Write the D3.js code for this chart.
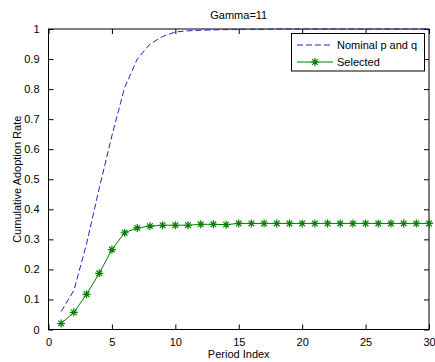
<!DOCTYPE html>
<html>
<head>
<meta charset="utf-8">
<script src="https://cdn.jsdelivr.net/npm/d3@7/dist/d3.min.js"></script>
<style>
  body { margin: 0; background: #fff; }
  svg { display: block; }
  text { font-family: "Liberation Sans", Arial, Helvetica, sans-serif; font-size: 11px; fill: #000; }
</style>
</head>
<body>
<svg id="chart" width="435" height="362"></svg>
<script>
// Period indices 1..30
const periods = d3.range(1, 31);

// Cumulative adoption, nominal p and q
const nominal = [0.06, 0.13, 0.285, 0.47, 0.645, 0.805, 0.90, 0.95, 0.975, 0.99,
                 0.994, 0.996, 0.997, 0.998, 0.999, 0.999, 0.999, 1.0, 1.0, 1.0,
                 1.0, 1.0, 1.0, 1.0, 1.0, 1.0, 1.0, 1.0, 1.0, 1.0];

// Cumulative adoption, selected parameters
const selected = [0.02, 0.057, 0.117, 0.187, 0.266, 0.322, 0.338, 0.344, 0.347, 0.347,
                  0.347, 0.350, 0.350, 0.349, 0.353, 0.353, 0.353, 0.353, 0.353, 0.353,
                  0.353, 0.353, 0.353, 0.353, 0.353, 0.353, 0.353, 0.353, 0.353, 0.353];

const xTicks = [0, 5, 10, 15, 20, 25, 30];
const yTicks = [0, 0.1, 0.2, 0.3, 0.4, 0.5, 0.6, 0.7, 0.8, 0.9, 1];

const titleText = "Gamma=11";
const xLabel = "Period Index";
const yLabel = "Cumulative Adoption Rate";
const seriesNames = ["Nominal p and q", "Selected"];

const blue = "#2020d0";
const green = "#008000";

const svg = d3.select("#chart");
const plot = { left: 48.5, right: 429, top: 29, bottom: 329.5 };

const x = d3.scaleLinear().domain([0, 30]).range([plot.left, plot.right]);
const y = d3.scaleLinear().domain([0, 1]).range([plot.bottom, plot.top]);

// Axes with inward ticks, mirrored on top and right
const tickLen = 5;
svg.append("g").attr("transform", `translate(0,${plot.bottom})`)
  .call(d3.axisBottom(x).tickValues(xTicks).tickSizeInner(-tickLen).tickSizeOuter(0).tickPadding(9))
  .call(g => g.select(".domain").remove());
svg.append("g").attr("transform", `translate(0,${plot.top})`)
  .call(d3.axisTop(x).tickValues(xTicks).tickSizeInner(-tickLen).tickSizeOuter(0).tickFormat(""))
  .call(g => g.select(".domain").remove());
svg.append("g").attr("transform", `translate(${plot.left},0)`)
  .call(d3.axisLeft(y).tickValues(yTicks).tickSizeInner(-tickLen).tickSizeOuter(0).tickPadding(9).tickFormat(d3.format("~g")))
  .call(g => g.select(".domain").remove());
svg.append("g").attr("transform", `translate(${plot.right},0)`)
  .call(d3.axisRight(y).tickValues(yTicks).tickSizeInner(-tickLen).tickSizeOuter(0).tickFormat(""))
  .call(g => g.select(".domain").remove());

svg.selectAll(".tick line").attr("stroke", "#000");
svg.selectAll(".tick text").style("font-size", "11px").attr("fill", "#000");

// Plot box
svg.append("rect")
  .attr("x", plot.left).attr("y", plot.top)
  .attr("width", plot.right - plot.left).attr("height", plot.bottom - plot.top)
  .attr("fill", "none").attr("stroke", "#000").attr("stroke-width", 1);

const line = d3.line().x((d, i) => x(periods[i])).y(d => y(d));

// Nominal series (dashed)
svg.append("path").datum(nominal)
  .attr("d", line).attr("fill", "none")
  .attr("stroke", blue).attr("stroke-width", 1).attr("stroke-dasharray", "6,3");

// Selected series (solid with asterisk markers)
svg.append("path").datum(selected)
  .attr("d", line).attr("fill", "none")
  .attr("stroke", green).attr("stroke-width", 1);

const asterisk = "M-4,0H4M0,-4V4M-2.8,-2.8L2.8,2.8M-2.8,2.8L2.8,-2.8";
svg.append("g").selectAll("path").data(selected).join("path")
  .attr("transform", (d, i) => `translate(${x(periods[i])},${y(d)})`)
  .attr("d", asterisk).attr("fill", "none").attr("stroke", green).attr("stroke-width", 1.2);

// Title and axis labels
svg.append("text").attr("x", (plot.left + plot.right) / 2).attr("y", 18.5)
  .attr("text-anchor", "middle").text(titleText);
svg.append("text").attr("x", (plot.left + plot.right) / 2).attr("y", 358)
  .attr("text-anchor", "middle").text(xLabel);
svg.append("text").attr("transform", `translate(20.5,${(plot.top + plot.bottom) / 2}) rotate(-90)`)
  .attr("text-anchor", "middle").text(yLabel);

// Legend
const lg = svg.append("g");
lg.append("rect").attr("x", 291.5).attr("y", 33.5).attr("width", 133).attr("height", 37.5)
  .attr("fill", "#fff").attr("stroke", "#000");
lg.append("line").attr("x1", 297).attr("x2", 333).attr("y1", 45).attr("y2", 45)
  .attr("stroke", blue).attr("stroke-dasharray", "6,3");
lg.append("text").attr("x", 337).attr("y", 49).text(seriesNames[0]);
lg.append("line").attr("x1", 297).attr("x2", 333).attr("y1", 62).attr("y2", 62)
  .attr("stroke", green);
lg.append("path").attr("transform", "translate(315,62)").attr("d", asterisk)
  .attr("fill", "none").attr("stroke", green).attr("stroke-width", 1.2);
lg.append("text").attr("x", 337).attr("y", 66).text(seriesNames[1]);
</script>
</body>
</html>
